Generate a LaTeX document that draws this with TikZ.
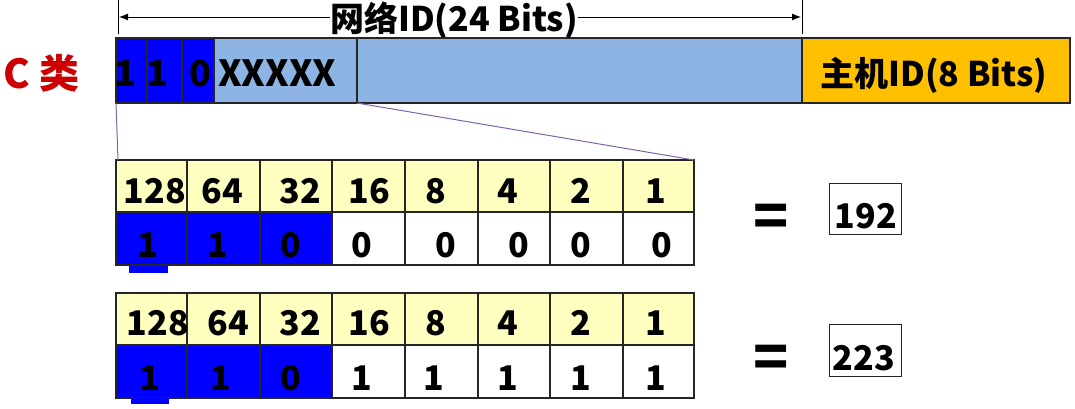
\documentclass[tikz,border=0pt]{standalone}
\usepackage{fontspec}
\setmainfont{Noto Sans CJK SC}
\usetikzlibrary{arrows.meta}
\definecolor{cred}{RGB}{204,0,0}
\definecolor{lblue}{RGB}{141,180,226}
\definecolor{orng}{RGB}{255,192,0}
\definecolor{pblue}{RGB}{0,0,255}
\definecolor{pyel}{RGB}{255,255,192}
\definecolor{purp}{RGB}{128,100,162}
\newcommand\bigf{\fontsize{34}{40}\selectfont\bfseries}
\newcommand\xxf{\fontsize{36}{40}\selectfont\bfseries}
\newcommand\clf{\fontsize{40}{44}\selectfont\bfseries}
\newcommand\eqf{\fontsize{58}{60}\selectfont\bfseries}
\begin{document}
\begin{tikzpicture}[x=1pt,y=-1pt,
  box/.style={draw=black!85, line width=1.2pt, outer sep=0pt, inner sep=0pt, anchor=north west},
  txt/.style={font=\bigf, inner sep=0pt, anchor=base},
  zoomline/.style={draw=purp, line width=1pt},
  dimline/.style={draw=black, line width=0.8pt},
  dimarrow/.style={dimline, -{Latex[length=9pt,width=7pt]}}]
\useasboundingbox (0,0) rectangle (1075,409);

% ---- top bar ----
\node[box, fill=pblue, minimum width=31, minimum height=65] (c1) at (116,38) {};
\node[box, fill=pblue, minimum width=35, minimum height=65] (c2) at (147,38) {};
\node[box, fill=pblue, minimum width=32, minimum height=65] (c3) at (182,38) {};
\node[box, fill=lblue, minimum width=143, minimum height=65] (xx) at (214,38) {};
\node[box, fill=lblue, minimum width=445, minimum height=65] (net) at (357,38) {};
\node[box, fill=orng, minimum width=268, minimum height=65] (host) at (802,38) {};

\node[txt, font=\xxf] (c1t) at (125,87) {1};
\node[txt, font=\xxf] (c2t) at (157,87) {1};
\node[txt, font=\xxf] (c3t) at (200,87) {0};
\node[txt, font=\xxf, anchor=base west] (xxt) at (218,87) {XXXXX};
\node[txt] (hostt) at (934,87) {主机ID(8 Bits)};

\node[txt, font=\clf, anchor=base west, text=cred] (cls) at (3,89) {C 类};

% ---- dimension line ----
\coordinate (tl) at (118,0);
\coordinate (bl) at (118,34);
\coordinate (tr) at (802,0);
\coordinate (br) at (802,34);
\coordinate (la) at (119,17);
\coordinate (ra) at (801,17);
\draw[dimline] (tl) -- (bl);
\draw[dimline] (tr) -- (br);
\node[txt] (title) at (454,32) {网络ID(24 Bits)};
\draw[dimarrow] (title.west |- la) -- (la);
\draw[dimarrow] (title.east |- ra) -- (ra);

% ---- tables ----
\foreach \i/\xa/\w in {1/116/71,2/187/73,3/260/72,4/332/73,5/405/73,6/478/72,7/550/73,8/623/71}{
  \pgfmathsetmacro{\fillc}{\i<4 ? "pblue" : "white"}
  \node[box, fill=pyel, minimum width=\w, minimum height=52] (a\i) at (\xa,160) {};
  \node[box, fill=\fillc, minimum width=\w, minimum height=53] (b\i) at (\xa,212) {};
  \node[box, fill=pyel, minimum width=\w, minimum height=52] (p\i) at (\xa,293) {};
  \node[box, fill=\fillc, minimum width=\w, minimum height=53] (q\i) at (\xa,345) {};
}

% table 1 texts
\foreach \x/\v [count=\k] in {155/128,222/64,300/32,369/16,436/8,508/4,581/2,656/1}{
  \node[txt] (at\k) at (\x,203) {\v};
}
\foreach \x/\v [count=\k] in {148/1,218/1,291/0,362/0,446/0,519/0,581/0,662/0}{
  \node[txt] (bt\k) at (\x,257) {\v};
}
% table 2 texts
\foreach \x/\v [count=\k] in {158/128,228/64,300/32,369/16,436/8,508/4,581/2,656/1}{
  \node[txt] (pt\k) at (\x,335) {\v};
}
\foreach \x/\v [count=\k] in {150/1,221/1,291/0,362/1,434/1,508/1,581/1,656/1}{
  \node[txt] (qt\k) at (\x,390) {\v};
}

% small blue marks under first cells
\fill[pblue] (129,266) rectangle (168,273);
\fill[pblue] (131,398) rectangle (169,404);

% zoom lines
\draw[zoomline] (c1.south west) -- ([xshift=2pt]a1.north west);
\draw[zoomline] (xx.south east) -- (a8.north east);

% ---- results ----
\node[font=\eqf, inner sep=0pt] (eq1) at (771,221) {=};
\node[font=\eqf, inner sep=0pt] (eq2) at (771,362) {=};
\node[box, minimum width=72, minimum height=51, line width=1pt] (r1) at (829,183) {};
\node[box, minimum width=72, minimum height=52, line width=1pt] (r2) at (829,324) {};
\node[txt] (r1t) at (866,228) {192};
\node[txt] (r2t) at (864,370) {223};
\end{tikzpicture}
\end{document}
